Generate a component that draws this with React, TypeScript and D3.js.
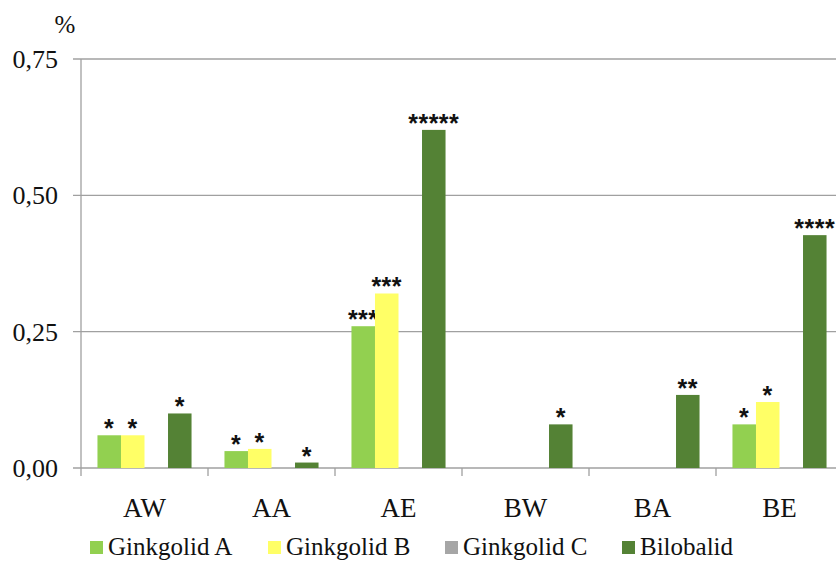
import React from "react";
import * as d3 from "d3";

const categories = ["AW", "AA", "AE", "BW", "BA", "BE"];
const seriesNames = ["Ginkgolid A", "Ginkgolid B", "Ginkgolid C", "Bilobalid"];
const ginkgolidA = [0.06, 0.031, 0.26, 0, 0, 0.08];
const ginkgolidB = [0.06, 0.035, 0.32, 0, 0, 0.121];
const ginkgolidC = [0, 0, 0, 0, 0, 0];
const bilobalid = [0.1, 0.01, 0.62, 0.08, 0.134, 0.427];
const starsA = ["*", "*", "***", "", "", "*"];
const starsB = ["*", "*", "***", "", "", "*"];
const starsC = ["", "", "", "", "", ""];
const starsBil = ["*", "*", "*****", "*", "**", "****"];
const yTicks = [0, 0.25, 0.5, 0.75];
const yTickLabels = ["0,00", "0,25", "0,50", "0,75"];
const colors = ["#92d050", "#ffff66", "#a6a6a6", "#548235"];

const seriesValues = [ginkgolidA, ginkgolidB, ginkgolidC, bilobalid];
const seriesStars = [starsA, starsB, starsC, starsBil];

export default function App() {
  const W = 836, H = 561;
  const x0 = 81, bandW = 127;
  const x = d3.scaleBand<string>().domain(categories).range([x0, x0 + bandW * categories.length]).padding(0);
  const xi = d3.scaleBand<string>().domain(seriesNames).range([0, x.bandwidth()]).paddingInner(0).paddingOuter(0.7);
  const y = d3.scaleLinear().domain([0, 0.75]).range([468, 59]);
  const serif = { fontFamily: "'Liberation Serif', 'Times New Roman', Times, serif" };
  const sans = { fontFamily: "'Liberation Sans', Arial, sans-serif" };
  const legendX = [90, 268, 445, 622];

  return (
    <svg width={W} height={H} style={{ position: "absolute", left: 0, top: 0, background: "#fff" }}>
      <rect x={0} y={0} width={W} height={H} fill="#fff" />
      {yTicks.map((t, i) => (
        <g key={i}>
          <line x1={73} x2={W} y1={y(t)} y2={y(t)} stroke="#a0a0a0" strokeWidth={1.3} />
          <text x={58} y={y(t) + 9} textAnchor="end" style={serif} fontSize={26} fill="#111">{yTickLabels[i]}</text>
        </g>
      ))}
      <line x1={x0} x2={x0} y1={y(0.75)} y2={y(0) + 8} stroke="#a0a0a0" strokeWidth={1.3} />
      {categories.map((c, i) => (
        <line key={i} x1={(x(c) as number) + bandW} x2={(x(c) as number) + bandW} y1={y(0)} y2={y(0) + 8} stroke="#a0a0a0" strokeWidth={1.3} />
      ))}
      <text x={65} y={33} textAnchor="middle" style={serif} fontSize={25} fill="#111">%</text>
      {categories.map((c, ci) => (
        <g key={c}>
          {seriesNames.map((s, si) => {
            const v = seriesValues[si][ci];
            if (v <= 0) return null;
            const bx = (x(c) as number) + (xi(s) as number);
            return (
              <g key={s}>
                <rect x={bx} y={y(v)} width={xi.bandwidth()} height={y(0) - y(v)} fill={colors[si]} />
                {seriesStars[si][ci] && (
                  <text x={bx + xi.bandwidth() / 2} y={y(v) + 2} textAnchor="middle" style={sans} fontWeight="bold" fontSize={25} letterSpacing={0.5} fill="#111">{seriesStars[si][ci]}</text>
                )}
              </g>
            );
          })}
          <text x={(x(c) as number) + bandW / 2} y={517} textAnchor="middle" style={serif} fontSize={27} fill="#111">{c}</text>
        </g>
      ))}
      {seriesNames.map((s, si) => (
        <g key={s}>
          <rect x={legendX[si]} y={541} width={13} height={13} fill={colors[si]} />
          <text x={legendX[si] + 18} y={555} style={serif} fontSize={25} fill="#111">{s}</text>
        </g>
      ))}
    </svg>
  );
}
